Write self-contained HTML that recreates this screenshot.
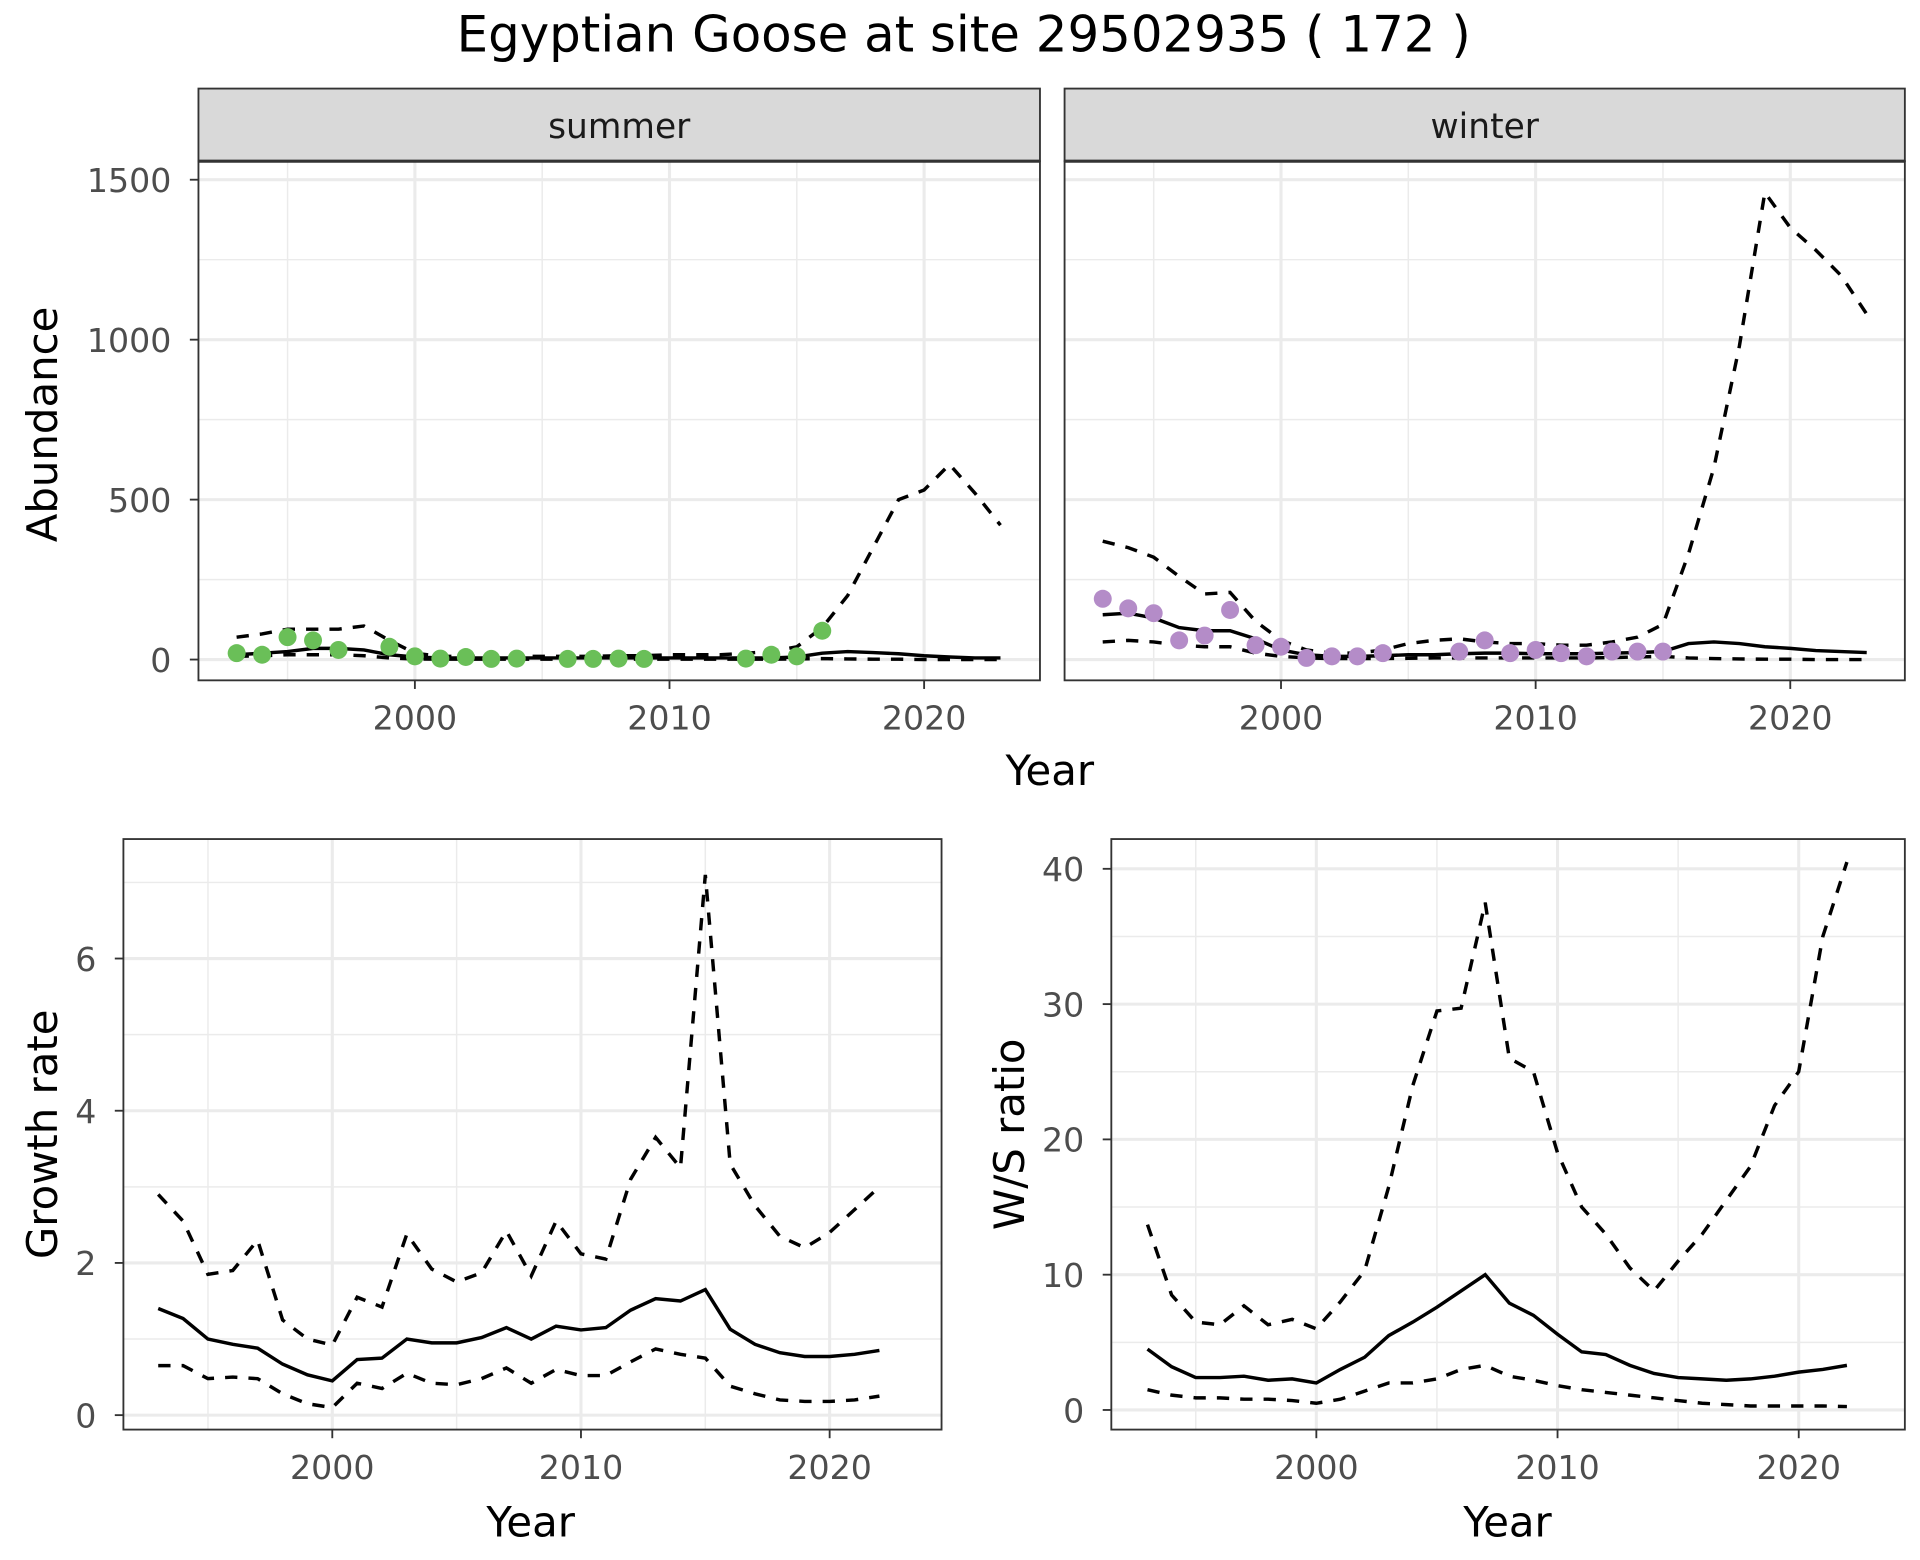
<!DOCTYPE html>
<html><head><meta charset="utf-8"><style>
html,body{margin:0;padding:0;background:#fff;}
svg{display:block;font-family:"DejaVu Sans","Liberation Sans",sans-serif;}
</style></head><body>
<svg id="c" width="1920" height="1560" viewBox="0 0 1560 1268" xmlns="http://www.w3.org/2000/svg">
<text x="783" y="42" font-size="40.5" text-anchor="middle" fill="#000">Egyptian Goose at site 29502935 ( 172 )</text>
<text x="853" y="638" font-size="34" text-anchor="middle" fill="#000">Year</text>
<text x="431" y="1249" font-size="34" text-anchor="middle" fill="#000">Year</text>
<text x="1225" y="1249" font-size="34" text-anchor="middle" fill="#000">Year</text>
<text transform="translate(46,345) rotate(-90)" font-size="34" text-anchor="middle" fill="#000">Abundance</text>
<text transform="translate(46,922) rotate(-90)" font-size="34" text-anchor="middle" fill="#000">Growth rate</text>
<text transform="translate(832,922) rotate(-90)" font-size="34" text-anchor="middle" fill="#000">W/S ratio</text>
</svg>
<script>
const yrsA=[1993,1994,1995,1996,1997,1998,1999,2000,2001,2002,2003,2004,2005,2006,2007,2008,2009,2010,2011,2012,2013,2014,2015,2016,2017,2018,2019,2020,2021,2022,2023];
const sumMean=[15,20,25,35,35,30,15,8,5,5,5,5,5,5,5,5,5,5,5,5,5,5,8,20,25,22,18,12,8,5,5];
const sumUpper=[70,80,95,95,95,105,60,20,10,10,10,10,10,10,10,12,12,15,15,15,20,25,40,100,200,350,500,530,610,520,420];
const sumLower=[10,12,15,15,15,12,5,2,1,1,1,1,1,1,1,1,1,1,1,1,1,1,2,3,2,1,1,0,0,0,0];
const sumPtYears=[1993,1994,1995,1996,1997,1999,2000,2001,2002,2003,2004,2006,2007,2008,2009,2013,2014,2015,2016];
const sumPtVals=[20,15,70,60,30,40,10,3,8,2,3,2,2,3,2,3,15,10,90];
const winMean=[140,145,130,100,90,90,65,30,15,10,10,12,15,15,18,20,20,18,18,18,20,22,25,50,55,50,40,35,28,25,22];
const winUpper=[370,350,320,260,205,210,120,60,30,20,20,30,50,60,65,55,50,50,45,45,55,70,110,330,600,980,1460,1350,1280,1200,1080];
const winLower=[55,60,55,45,40,40,20,10,5,3,3,3,4,5,5,5,5,5,5,5,6,8,10,5,3,2,1,1,0,0,0];
const winPtYears=[1993,1994,1995,1996,1997,1998,1999,2000,2001,2002,2003,2004,2007,2008,2009,2010,2011,2012,2013,2014,2015];
const winPtVals=[190,160,145,60,75,155,45,40,5,10,10,20,25,60,20,30,20,10,25,25,25];
const yrsB=[1993,1994,1995,1996,1997,1998,1999,2000,2001,2002,2003,2004,2005,2006,2007,2008,2009,2010,2011,2012,2013,2014,2015,2016,2017,2018,2019,2020,2021,2022];
const grMean=[1.4,1.27,1.0,0.93,0.88,0.67,0.53,0.45,0.73,0.75,1.0,0.95,0.95,1.02,1.15,1.0,1.17,1.12,1.15,1.38,1.53,1.5,1.65,1.13,0.93,0.82,0.77,0.77,0.8,0.85];
const grUpper=[2.9,2.55,1.85,1.9,2.3,1.25,1.0,0.92,1.55,1.42,2.38,1.92,1.75,1.87,2.42,1.83,2.55,2.12,2.05,3.1,3.65,3.25,7.1,3.3,2.75,2.35,2.2,2.4,2.7,3.0];
const grLower=[0.65,0.65,0.48,0.5,0.48,0.28,0.15,0.1,0.42,0.35,0.55,0.42,0.4,0.48,0.62,0.42,0.6,0.52,0.52,0.7,0.87,0.8,0.75,0.38,0.28,0.2,0.18,0.18,0.2,0.25];
const wsMean=[4.5,3.2,2.4,2.4,2.5,2.2,2.3,2.0,3.0,3.9,5.5,6.5,7.6,8.8,10,7.9,7,5.6,4.3,4.1,3.3,2.7,2.4,2.3,2.2,2.3,2.5,2.8,3.0,3.3];
const wsUpper=[13.7,8.5,6.5,6.3,7.7,6.3,6.7,6.0,8,10.3,16.5,24,29.5,29.7,37.5,26,25,19,15,13,10.5,8.8,11,13,15.5,18,22.5,25,35,40.5];
const wsLower=[1.5,1.1,0.9,0.9,0.8,0.8,0.7,0.5,0.8,1.4,2.0,2.0,2.3,3.0,3.3,2.5,2.2,1.8,1.5,1.3,1.1,0.9,0.7,0.5,0.4,0.3,0.3,0.3,0.3,0.25];
const xTicks=[2000,2010,2020];
const xMinor=[1995,2005,2015];
const abTicks=[0,500,1000,1500];
const abMinor=[250,750,1250];
const grTicks=[0,2,4,6];
const grMinor=[1,3,5,7];
const wsTicks=[0,10,20,30,40];
const wsMinor=[5,15,25,35];

const svg=document.getElementById('c');
const NS='http://www.w3.org/2000/svg';
function el(t,a,p){const e=document.createElementNS(NS,t);for(const k in a)e.setAttribute(k,a[k]);(p||svg).appendChild(e);return e;}
function lin(d0,d1,r0,r1){return v=>r0+(v-d0)*(r1-r0)/(d1-d0);}

function panel(o){
  const g=el('g',{});
  
  
  const X=lin(o.xd[0],o.xd[1],o.x0,o.x1), Y=lin(o.yd[0],o.yd[1],o.y1,o.y0);
  for(const v of o.yMinor){if(Y(v)<o.y0)continue;const l=el('line',{x1:o.x0,x2:o.x1,y1:Y(v),y2:Y(v),stroke:'#ebebeb','stroke-width':1.2},g);}
  for(const v of xMinor){const l=el('line',{x1:X(v),x2:X(v),y1:o.y0,y2:o.y1,stroke:'#ebebeb','stroke-width':1.2},g);}
  for(const v of o.yTicks){const l=el('line',{x1:o.x0,x2:o.x1,y1:Y(v),y2:Y(v),stroke:'#ebebeb','stroke-width':2.5},g);}
  for(const v of xTicks){const l=el('line',{x1:X(v),x2:X(v),y1:o.y0,y2:o.y1,stroke:'#ebebeb','stroke-width':2.5},g);}
  function line(vals,dash,nm){const pts=o.years.map((y,i)=>X(y).toFixed(1)+','+Y(vals[i]).toFixed(1)).join(' ');
    const p=el('polyline',{points:pts,fill:'none',stroke:'#000','stroke-width':2.8,'stroke-dasharray':dash?'10 9':'none'},g);
    }
  line(o.upper,true,'upper-bound-line');line(o.lower,true,'lower-bound-line');line(o.mean,false,'mean-line');
  if(o.pY){o.pY.forEach((y,i)=>{const c=el('circle',{cx:X(y),cy:Y(o.pV[i]),r:7.3,fill:o.col},g);});}
  const b=el('rect',{x:o.x0,y:o.y0,width:o.x1-o.x0,height:o.y1-o.y0,fill:'none',stroke:'#333','stroke-width':1.5},g);
  
  if(o.yLabels){for(const v of o.yTicks){el('line',{x1:o.x0-7,x2:o.x0,y1:Y(v),y2:Y(v),stroke:'#333','stroke-width':1.5},g);
    const t=el('text',{x:o.x0-22,y:Y(v)+10,'font-size':27,'text-anchor':'end',fill:'#4d4d4d'},g);t.textContent=v;}}
  for(const v of xTicks){el('line',{x1:X(v),x2:X(v),y1:o.y1,y2:o.y1+7,stroke:'#333','stroke-width':1.5},g);
    const t=el('text',{x:X(v),y:o.y1+40,'font-size':27,'text-anchor':'middle',fill:'#4d4d4d'},g);t.textContent=v;}
  if(o.strip){const s=el('rect',{x:o.x0,y:72,width:o.x1-o.x0,height:59,fill:'#d9d9d9',stroke:'#333','stroke-width':1.5},g);
    el('line',{x1:o.x0,x2:o.x1,y1:131,y2:131,stroke:'#333','stroke-width':2.5},g);
    const t=el('text',{x:(o.x0+o.x1)/2,y:112,'font-size':28,'text-anchor':'middle',fill:'#1a1a1a'},g);t.textContent=o.strip;}
}
panel({name:'summer-panel',x0:161,x1:845,y0:131,y1:553,xd:[1991.5,2024.55],yd:[-65,1558],
  years:yrsA,mean:sumMean,upper:sumUpper,lower:sumLower,pY:sumPtYears,pV:sumPtVals,col:'#6abf58',yTicks:abTicks,yMinor:abMinor,yLabels:true,strip:'summer'});
panel({name:'winter-panel',x0:865,x1:1548,y0:131,y1:553,xd:[1991.5,2024.5],yd:[-65,1558],
  years:yrsA,mean:winMean,upper:winUpper,lower:winLower,pY:winPtYears,pV:winPtVals,col:'#b48cc8',yTicks:abTicks,yMinor:abMinor,yLabels:false,strip:'winter'});
panel({name:'growth-rate-panel',x0:100,x1:765,y0:682,y1:1162,xd:[1991.6,2024.5],yd:[-0.19,7.57],
  years:yrsB,mean:grMean,upper:grUpper,lower:grLower,yTicks:grTicks,yMinor:grMinor,yLabels:true});
panel({name:'ws-ratio-panel',x0:903,x1:1548,y0:682,y1:1162,xd:[1991.5,2024.4],yd:[-1.45,42.2],
  years:yrsB,mean:wsMean,upper:wsUpper,lower:wsLower,yTicks:wsTicks,yMinor:wsMinor,yLabels:true});
</script>
</body></html>
